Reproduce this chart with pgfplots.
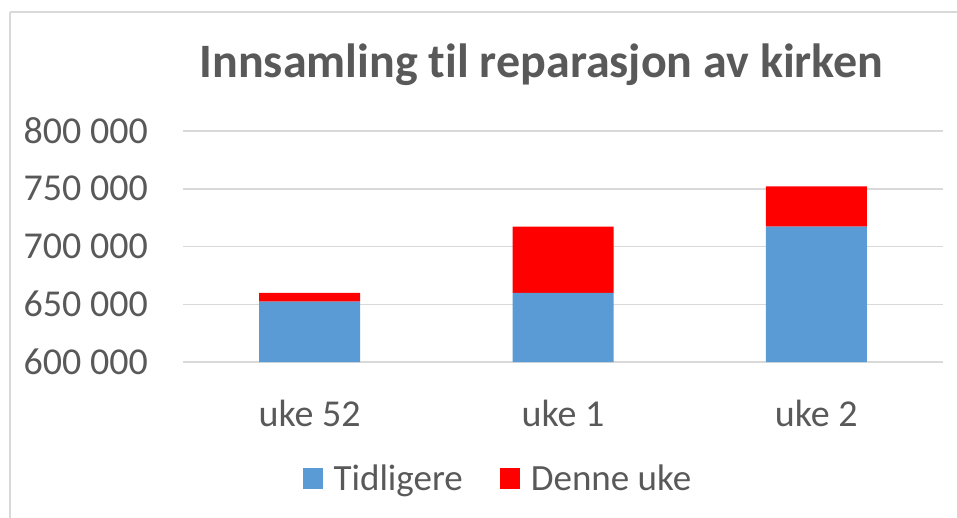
\documentclass[border=0pt]{standalone}
\usepackage{pgfplots}
\pgfplotsset{compat=1.18}
\usepackage{fontspec}
\setmainfont{Carlito}[Ligatures=NoCommon]
\definecolor{txt}{HTML}{595959}
\definecolor{grd}{HTML}{D9D9D9}
\definecolor{bblue}{HTML}{5B9BD5}
\definecolor{bred}{HTML}{FF0000}
\begin{document}
\begin{tikzpicture}[x=1pt,y=1pt]
\useasboundingbox (0,0) rectangle (957,517);
\draw[grd, line width=1.5pt] (10,505) -- (10,-10);
\draw[grd, line width=1.5pt] (10,505) -- (970,505);
\node[txt, font=\fontsize{48}{48}\selectfont\bfseries, anchor=center] at (541.5,452) {Innsamling til reparasjon av kirken};
\begin{axis}[
  at={(183pt,155pt)}, anchor=south west,
  scale only axis, width=760pt, height=231pt,
  xmin=-0.5, xmax=2.5, ymin=600000, ymax=800000,
  ybar stacked, bar width=101pt,
  xtick={0,1,2}, xticklabels={uke 52, uke 1, uke 2},
  ytick={600000,650000,700000,750000,800000},
  yticklabels={600 000,650 000,700 000,750 000,800 000},
  scaled y ticks=false,
  axis line style={draw=none}, major tick length=0pt,
  ymajorgrids, grid style={grd, line width=1.5pt},
  tick label style={txt, font=\fontsize{38}{38}\selectfont, inner sep=0pt},
  yticklabel style={xshift=-35pt},
  xticklabel style={yshift=-38pt},
  legend style={at={(0.413,-0.506)}, anchor=center, draw=none, fill=none,
    legend columns=2, font=\fontsize{37}{37}\selectfont, text=txt,
    /tikz/every even column/.append style={column sep=37pt},
    nodes={inner sep=0pt}},
  legend cell align=left,
  legend image code/.code={\fill[#1] (0pt,-10.5pt) rectangle (20pt,10.5pt);},
  /tikz/every odd column/.append style={column sep=11pt},
]
\addplot[fill=bblue, draw=none] coordinates {(0,652300) (1,659900) (2,717300)};
\addplot[fill=bred, draw=none] coordinates {(0,7600) (1,57400) (2,34700)};
\legend{Tidligere, Denne uke}
\end{axis}
\end{tikzpicture}
\end{document}
